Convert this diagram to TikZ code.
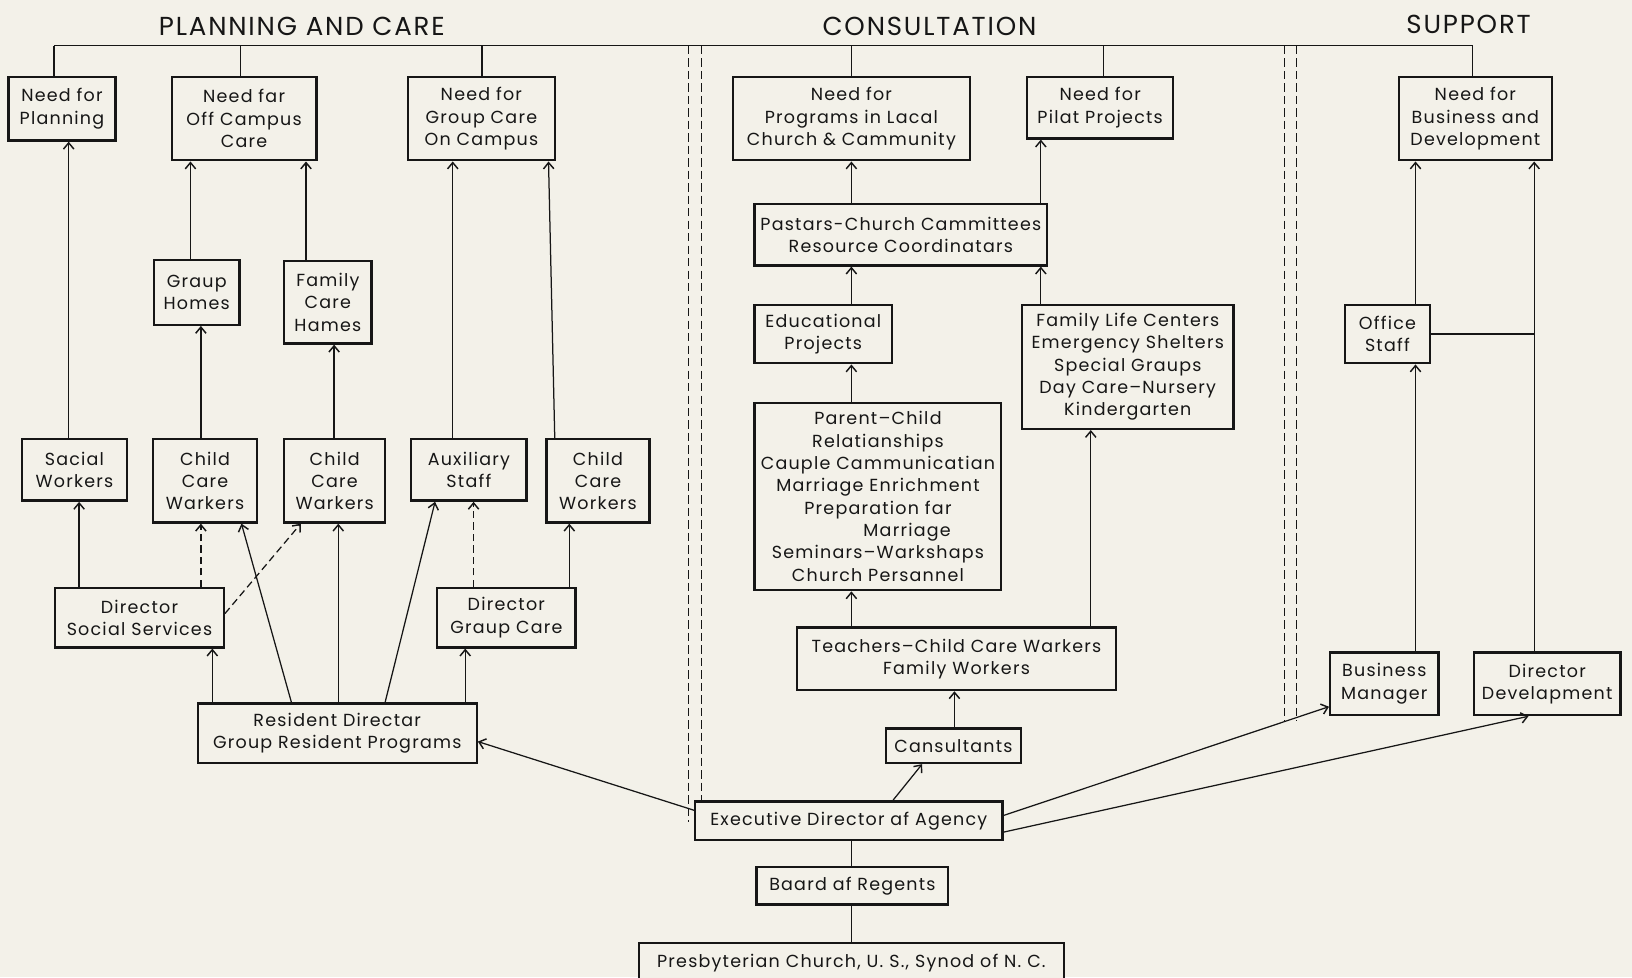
\documentclass[tikz,border=0pt]{standalone}
\usepackage{fontspec}
\setmainfont{Poppins}[LetterSpace=7]
\usetikzlibrary{arrows.meta}
\definecolor{paper}{RGB}{243,241,233}
\definecolor{ink}{RGB}{22,22,22}
\newcommand\varr[4][]{\draw[arr,#1] (#2,0 |- #3.north) -- (#2,0 |- #4.south);}
\begin{document}
\begin{tikzpicture}[x=1pt,y=-1pt,
  box/.style={draw=ink, line width=2.3pt, fill=paper, align=center, inner sep=0pt,
    font=\fontsize{16.8}{21.5}\selectfont, text=ink},
  wh/.style 2 args={minimum width=#1pt, minimum height=#2pt},
  arr/.style={draw=ink, line width=1.2pt, -{Straight Barb[length=6pt,width=10pt,line width=1.4pt]}},
  ln/.style={draw=ink, line width=1.2pt},
  dsh/.style={dash pattern=on 7pt off 4pt},
  sep/.style={draw=ink, line width=0.8pt, dash pattern=on 8pt off 4pt},
  head/.style={font=\fontsize{25}{30}\selectfont, text=ink}]
\fill[paper] (0,0) rectangle (1568,939);
\clip (0,0) rectangle (1568,939);

% headers
\node[head] (h1) at (290,25) {PLANNING AND CARE};
\node[head] (h2) at (893,25) {CONSULTATION};
\node[head] (h3) at (1411,23) {SUPPORT};

% separators
\draw[sep] (661,44) -- (661,790);
\draw[sep] (674,44) -- (674,770);
\draw[sep] (1234,44) -- (1234,693);
\draw[sep] (1246,44) -- (1246,693);

% row 1
\node[box,wh={103}{61}] (A1) at (59.5,104.5) {Need for\\Planning};
\node[box,wh={139}{80}] (A2) at (234.5,114) {Need far\\Off Campus\\Care};
\node[box,wh={141}{80}] (A3) at (462.5,114) {Need for\\Group Care\\On Campus};
\node[box,wh={228}{80}] (C1) at (818,114) {Need for\\Programs in Lacal\\Church \& Cammunity};
\node[box,wh={140}{59}] (C2) at (1057,103.5) {Need for\\Pilat Projects};
\node[box,wh={147}{80}] (S1) at (1417.5,114) {Need for\\Business and\\Development};

% row 2
\node[box,wh={82}{62}] (GH) at (189,281) {Graup\\Homes};
\node[box,wh={84}{79}] (FCH) at (315,290.5) {Family\\Care\\Hames};
\node[box,wh={281}{59}] (PAS) at (865.5,225.5) {Pastars-Church Cammittees\\Resource Coordinatars};
\node[box,wh={132}{56}] (EDU) at (791,321) {Educational\\Projects};
\node[box,wh={203}{119}] (FLC) at (1083.5,352.5) {Family Life Centers\\Emergency Shelters\\Special Graups\\Day Care--Nursery\\Kindergarten};
\node[box,wh={82}{56}] (OFF) at (1333,321) {Office\\Staff};

% row 3
\node[box,wh={101}{59}] (SW) at (71.5,451.5) {Sacial\\Workers};
\node[box,wh={100}{80}] (CW1) at (197,462) {Child\\Care\\Warkers};
\node[box,wh={97}{80}] (CW2) at (321.5,462) {Child\\Care\\Warkers};
\node[box,wh={111}{59}] (AUX) at (450.5,451.5) {Auxiliary\\Staff};
\node[box,wh={99}{80}] (CW3) at (574.5,462) {Child\\Care\\Workers};
\node[box,wh={237}{180}] (PC) at (843.5,477) {Parent--Child\\Relatianships\\Cauple Cammunicatian\\Marriage Enrichment\\Preparation far\\\hspace*{56pt}Marriage\\Seminars--Warkshaps\\Church Persannel};

% row 4
\node[box,wh={162}{57}] (DSS) at (134,593.5) {Director\\Social Services};
\node[box,wh={133}{57}] (DGC) at (486.5,593.5) {Director\\Graup Care};
\node[box,wh={306}{60}] (TCH) at (919,633) {Teachers--Child Care Warkers\\Family Workers};
\node[box,wh={104}{60}] (BM) at (1330,657) {Business\\Manager};
\node[box,wh={141}{60}] (DD) at (1486.5,657) {Director\\Develapment};

% row 5
\node[box,wh={268}{57}] (RD) at (324,704.5) {Resident Directar\\Group Resident Programs};
\node[box,wh={130}{33}] (CON) at (916,716.5) {Cansultants};

% row 6
\node[box,wh={295}{37}] (EX) at (815.5,788.5) {Executive Director af Agency};
\node[box,wh={184}{36}] (BR) at (819,851) {Baard af Regents};
\node[box,wh={408}{38}] (PR) at (818,925) {Presbyterian Church, U. S., Synod of N. C.};

% top bus
\draw[ln] (52,44) -- (1415,44);
\draw[ln] (52,44) -- (52,0 |- A1.north);
\draw[ln] (231,44) -- (231,0 |- A2.north);
\draw[ln] (463,44) -- (463,0 |- A3.north);
\draw[ln] (818,44) -- (818,0 |- C1.north);
\draw[ln] (1060,44) -- (1060,0 |- C2.north);
\draw[ln] (1415,44) -- (1415,0 |- S1.north);

% planning and care
\varr{66}{SW}{A1}
\varr{76}{DSS}{SW}
\varr{183}{GH}{A2}
\varr{294}{FCH}{A2}
\varr{193}{CW1}{GH}
\varr{321}{CW2}{FCH}
\varr{435}{AUX}{A3}
\draw[arr] (533,0 |- CW3.north) -- (527,0 |- A3.south);
\varr[dsh]{193}{DSS}{CW1}
\draw[arr,dsh] ([yshift=4pt]DSS.east) -- (289,0 |- CW2.south);
\varr{204}{RD}{DSS}
\draw[arr] (280,0 |- RD.north) -- (232,0 |- CW1.south);
\varr{325}{RD}{CW2}
\draw[arr] (370,0 |- RD.north) -- (418,0 |- AUX.south);
\varr{447}{RD}{DGC}
\varr[dsh]{455}{DGC}{AUX}
\varr{547}{DGC}{CW3}

% consultation
\draw[arr] ([yshift=10pt]EX.west) -- ([yshift=-8pt]RD.east);
\draw[arr] (858,0 |- EX.north) -- (886,0 |- CON.south);
\varr{917}{CON}{TCH}
\varr{818}{TCH}{PC}
\varr{1048}{TCH}{FLC}
\varr{818}{PC}{EDU}
\varr{818}{EDU}{PAS}
\varr{1000}{FLC}{PAS}
\varr{818}{PAS}{C1}
\varr{1000}{PAS}{C2}

% support
\varr{1360}{OFF}{S1}
\varr{1360}{BM}{OFF}
\varr{1474}{DD}{S1}
\draw[ln] (OFF.east) -- (1474,0 |- OFF.east);
\draw[arr] ([yshift=5pt]EX.east) -- ([yshift=-22pt]BM.west);
\draw[arr] ([yshift=-11pt]EX.east) -- ([xshift=-18pt]DD.south);

% bottom chain
\draw[ln] (818,0 |- EX.south) -- (818,0 |- BR.north);
\draw[ln] (818,0 |- BR.south) -- (818,0 |- PR.north);
\end{tikzpicture}
\end{document}
